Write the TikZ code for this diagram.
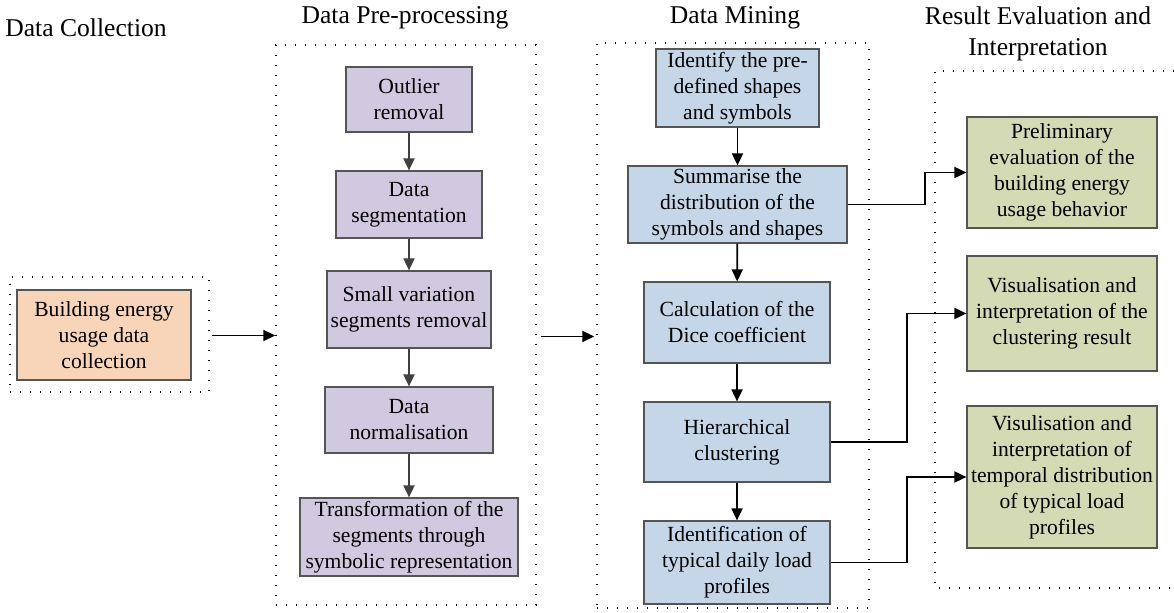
\documentclass[tikz,border=0pt]{standalone}
\usepackage{fontspec}
\setmainfont{Liberation Serif}
\newfontfamily\boxfont{Liberation Serif}
\usetikzlibrary{positioning,arrows.meta,calc}
\definecolor{collorange}{HTML}{F8D5B8}
\definecolor{prepurple}{HTML}{D0C9DF}
\definecolor{mineblue}{HTML}{C4D6E7}
\definecolor{resgreen}{HTML}{D3DAB4}
\definecolor{edgegray}{HTML}{555555}
\definecolor{arrowgray}{HTML}{404040}

\begin{document}
\begin{tikzpicture}[x=0.5pt, y=-0.5pt,
    stage/.style={draw, line width=0.7pt, dash pattern=on 0.7pt off 4.3pt},
    procbox/.style={draw=edgegray, line width=0.6pt, align=center, inner sep=1pt,
      font=\boxfont\fontsize{10.8}{13}\selectfont},
    title/.style={align=center, font=\boxfont\fontsize{12.8}{15.5}\selectfont},
    flow/.style={line width=0.9pt, -{Triangle[length=6pt,width=5.5pt]}}]
  \useasboundingbox (0,0) rectangle (1174,613);
  % stage titles
  \node[title] (tcoll) at (86,28) {Data Collection};
  \node[title] (tpre) at (405,18) {Data Pre-processing};
  \node[title] (tmine) at (735,18) {Data Mining};
  \node[title] (tres) at (1038,34) {Result Evaluation and\\Interpretation};
  % dotted stage frames
  \node[stage, minimum width=99.5pt, minimum height=57.5pt] (collbox) at (109.5,334.5) {};
  \node[stage, minimum width=130pt, minimum height=280pt] (prebox) at (406,325) {};
  \node[stage, minimum width=136pt, minimum height=282.5pt] (minebox) at (733,325.5) {};
  \coordinate (restop) at (1174,71);
  \coordinate (resbot) at (1174,588);
  \draw[stage] (restop) -| (935,588) -- (resbot);
  % data collection
  \node[procbox, fill=collorange, minimum width=87pt, minimum height=45pt] (coll) at (104,335)
    {Building energy\\usage data\\collection};
  % pre-processing
  \node[procbox, fill=prepurple, minimum width=63pt, minimum height=32.5pt] (outl) at (409,99.5)
    {Outlier\\removal};
  \node[procbox, fill=prepurple, minimum width=73pt, minimum height=33.5pt] (segm) at (409,204.5)
    {Data\\segmentation};
  \node[procbox, fill=prepurple, minimum width=82pt, minimum height=38.5pt] (smvar) at (409,309.5)
    {Small variation\\segments removal};
  \node[procbox, fill=prepurple, minimum width=84pt, minimum height=33pt] (norm) at (409,420)
    {Data\\normalisation};
  \node[procbox, fill=prepurple, minimum width=109pt, minimum height=39pt] (trans) at (409,537)
    {Transformation of the\\segments through\\symbolic representation};
  % data mining
  \node[procbox, fill=mineblue, minimum width=81.5pt, minimum height=39pt] (ident) at (737.5,88)
    {Identify the pre-\\defined shapes\\and symbols};
  \node[procbox, fill=mineblue, minimum width=109.5pt, minimum height=38.5pt] (summ) at (737.5,204.5)
    {Summarise the\\distribution of the\\symbols and shapes};
  \node[procbox, fill=mineblue, minimum width=93pt, minimum height=40.5pt] (dice) at (737,322.5)
    {Calculation of the\\Dice coefficient};
  \node[procbox, fill=mineblue, minimum width=93pt, minimum height=40pt] (hier) at (737,442)
    {Hierarchical\\clustering};
  \node[procbox, fill=mineblue, minimum width=93pt, minimum height=41.5pt] (typ) at (737,562.5)
    {Identification of\\typical daily load\\profiles};
  % result evaluation
  \node[procbox, fill=resgreen, minimum width=95pt, minimum height=55.5pt] (prelim) at (1062,172.5)
    {Preliminary\\evaluation of the\\building energy\\usage behavior};
  \node[procbox, fill=resgreen, minimum width=95pt, minimum height=57.5pt] (visclu) at (1062,313.5)
    {Visualisation and\\interpretation of the\\clustering result};
  \node[procbox, fill=resgreen, minimum width=95pt, minimum height=71pt] (visprof) at (1062,477)
    {Visulisation and\\interpretation of\\temporal distribution\\of typical load\\profiles};
  % arrows between stages
  \draw[flow] (collbox.east) ++(2,1) -- ($(prebox.west |- collbox.east)+(0,1)$);
  \draw[flow] ($(prebox.east |- collbox.east)+(4,2)$) -- ($(minebox.west |- collbox.east)+(-2,2)$);
  % pre-processing chain
  \foreach \a/\b in {outl/segm, segm/smvar, smvar/norm, norm/trans}
    \draw[flow, arrowgray] (\a) -- (\b);
  % data mining chain
  \foreach \a/\b in {ident/summ, summ/dice, dice/hier, hier/typ}
    \draw[flow] (\a) -- (\b);
  % links to the results
  \draw[flow] (summ.east) -- ++(77,0) |- (prelim.west);
  \draw[flow] (hier.east) -- ++(76,0) |- (visclu.west);
  \draw[flow] (typ.east) -- ++(76,0) |- (visprof.west);
\end{tikzpicture}
\end{document}
